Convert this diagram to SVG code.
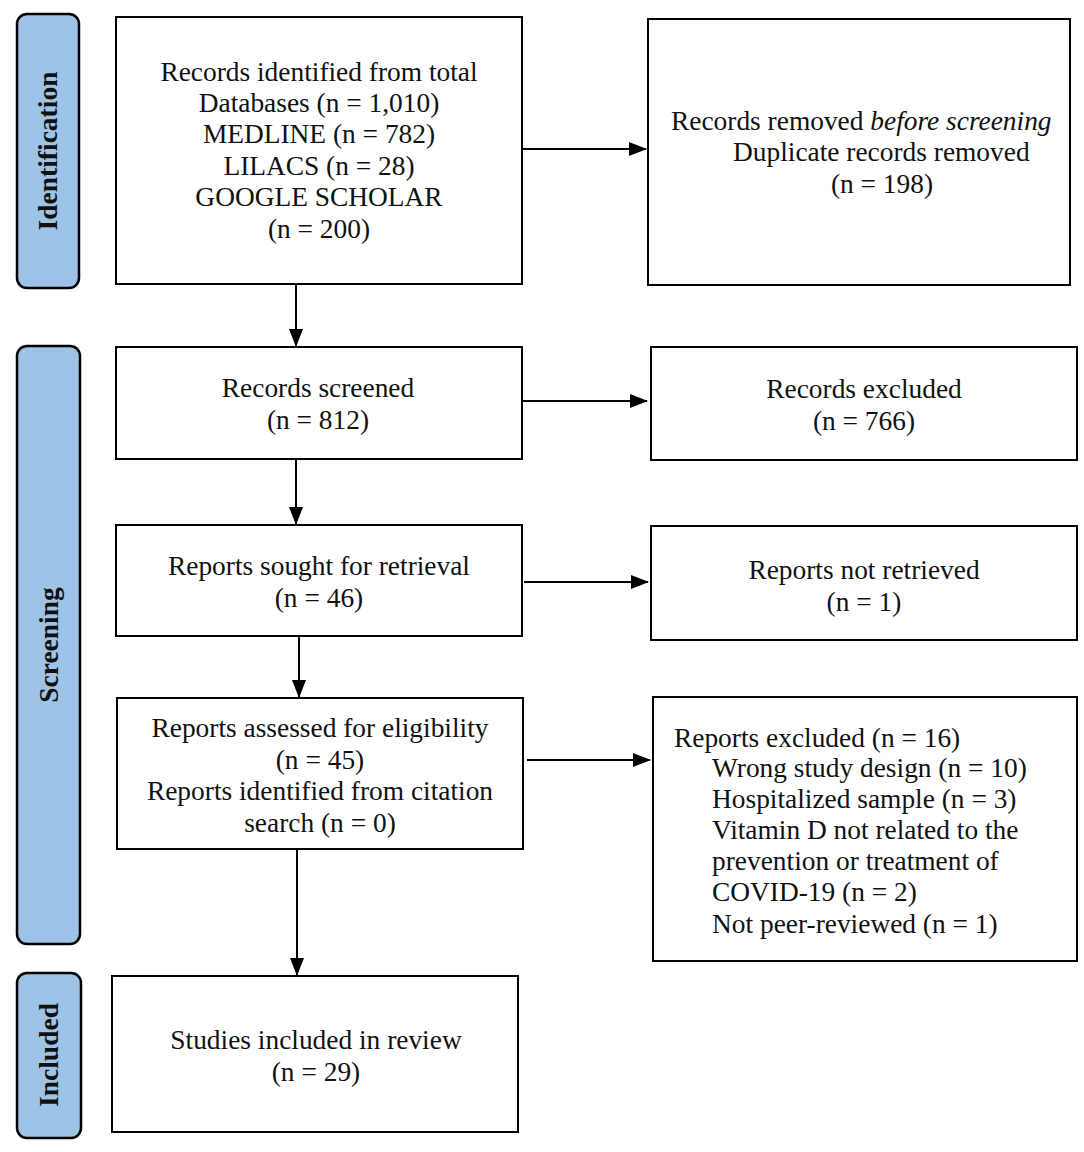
<svg xmlns="http://www.w3.org/2000/svg" width="1084" height="1152" viewBox="0 0 1084 1152">
<defs>
<marker id="ah" markerWidth="18" markerHeight="14" refX="17" refY="7" orient="auto" markerUnits="userSpaceOnUse" viewBox="0 0 18 14">
<path d="M0,0 L18,7 L0,14 z" fill="#000"/>
</marker>
<style>
.box{fill:#fff;stroke:#000;stroke-width:2}
.side{fill:#9DC3E6;stroke:#000;stroke-width:2.5}
.t{font-family:"Liberation Serif","Times New Roman",serif;font-size:27.4px;fill:#111}
.c{text-anchor:middle}
.s{font-family:"Liberation Serif","Times New Roman",serif;font-size:27.5px;font-weight:bold;fill:#111;text-anchor:middle}
.ln{stroke:#000;stroke-width:2;fill:none;marker-end:url(#ah)}
</style>
</defs>
<rect width="1084" height="1152" fill="#fff"/>
<g id="phase-identification">
<rect class="side" x="17" y="14" width="62" height="274" rx="10"/>
<text class="s" transform="translate(57,151) rotate(-90)">Identification</text>
</g>
<g id="phase-screening">
<rect class="side" x="17" y="346" width="63" height="598" rx="10"/>
<text class="s" transform="translate(58,645) rotate(-90)">Screening</text>
</g>
<g id="phase-included">
<rect class="side" x="17" y="973" width="64" height="165" rx="10"/>
<text class="s" transform="translate(58,1055) rotate(-90)">Included</text>
</g>
<g id="n-identified">
<rect class="box" x="116" y="17" width="406" height="267"/>
<text class="t c" x="319" y="81">Records identified from total</text>
<text class="t c" x="319" y="112">Databases (n = 1,010)</text>
<text class="t c" x="319" y="143">MEDLINE (n = 782)</text>
<text class="t c" x="319" y="175">LILACS (n = 28)</text>
<text class="t c" x="319" y="206">GOOGLE SCHOLAR</text>
<text class="t c" x="319" y="238">(n = 200)</text>
</g>
<g id="n-removed">
<rect class="box" x="648" y="19" width="422" height="266"/>
<text class="t" x="671" y="130">Records removed <tspan font-style="italic">before screening</tspan></text>
<text class="t" x="733" y="161">Duplicate records removed</text>
<text class="t c" x="882" y="193">(n = 198)</text>
</g>
<g id="n-screened">
<rect class="box" x="116" y="347" width="406" height="112"/>
<text class="t c" x="318" y="397">Records screened</text>
<text class="t c" x="318" y="429">(n = 812)</text>
</g>
<g id="n-excluded">
<rect class="box" x="651" y="347" width="426" height="113"/>
<text class="t c" x="864" y="398">Records excluded</text>
<text class="t c" x="864" y="430">(n = 766)</text>
</g>
<g id="n-sought">
<rect class="box" x="116" y="525" width="406" height="111"/>
<text class="t c" x="319" y="575">Reports sought for retrieval</text>
<text class="t c" x="319" y="607">(n = 46)</text>
</g>
<g id="n-notretrieved">
<rect class="box" x="651" y="526" width="426" height="114"/>
<text class="t c" x="864" y="579">Reports not retrieved</text>
<text class="t c" x="864" y="611">(n = 1)</text>
</g>
<g id="n-assessed">
<rect class="box" x="117" y="698" width="406" height="151"/>
<text class="t c" x="320" y="737">Reports assessed for eligibility</text>
<text class="t c" x="320" y="769">(n = 45)</text>
<text class="t c" x="320" y="800">Reports identified from citation</text>
<text class="t c" x="320" y="832">search (n = 0)</text>
</g>
<g id="n-reportsexcluded">
<rect class="box" x="653" y="697" width="424" height="264"/>
<text class="t" x="674" y="747">Reports excluded (n = 16)</text>
<text class="t" x="712" y="777">Wrong study design (n = 10)</text>
<text class="t" x="712" y="808">Hospitalized sample (n = 3)</text>
<text class="t" x="712" y="839">Vitamin D not related to the</text>
<text class="t" x="712" y="870">prevention or treatment of</text>
<text class="t" x="712" y="901">COVID-19 (n = 2)</text>
<text class="t" x="712" y="933">Not peer-reviewed (n = 1)</text>
</g>
<g id="n-included">
<rect class="box" x="112" y="976" width="406" height="156"/>
<text class="t c" x="316" y="1049">Studies included in review</text>
<text class="t c" x="316" y="1081">(n = 29)</text>
</g>
<g id="connectors">
<line class="ln" x1="522" y1="149" x2="646" y2="149"/>
<line class="ln" x1="522" y1="401" x2="647" y2="401"/>
<line class="ln" x1="524" y1="582" x2="648" y2="582"/>
<line class="ln" x1="527" y1="760" x2="650" y2="760"/>
<line class="ln" x1="296" y1="284" x2="296" y2="346"/>
<line class="ln" x1="296" y1="459" x2="296" y2="524"/>
<line class="ln" x1="299" y1="636" x2="299" y2="697"/>
<line class="ln" x1="297" y1="849" x2="297" y2="975"/>
</g>
</svg>
